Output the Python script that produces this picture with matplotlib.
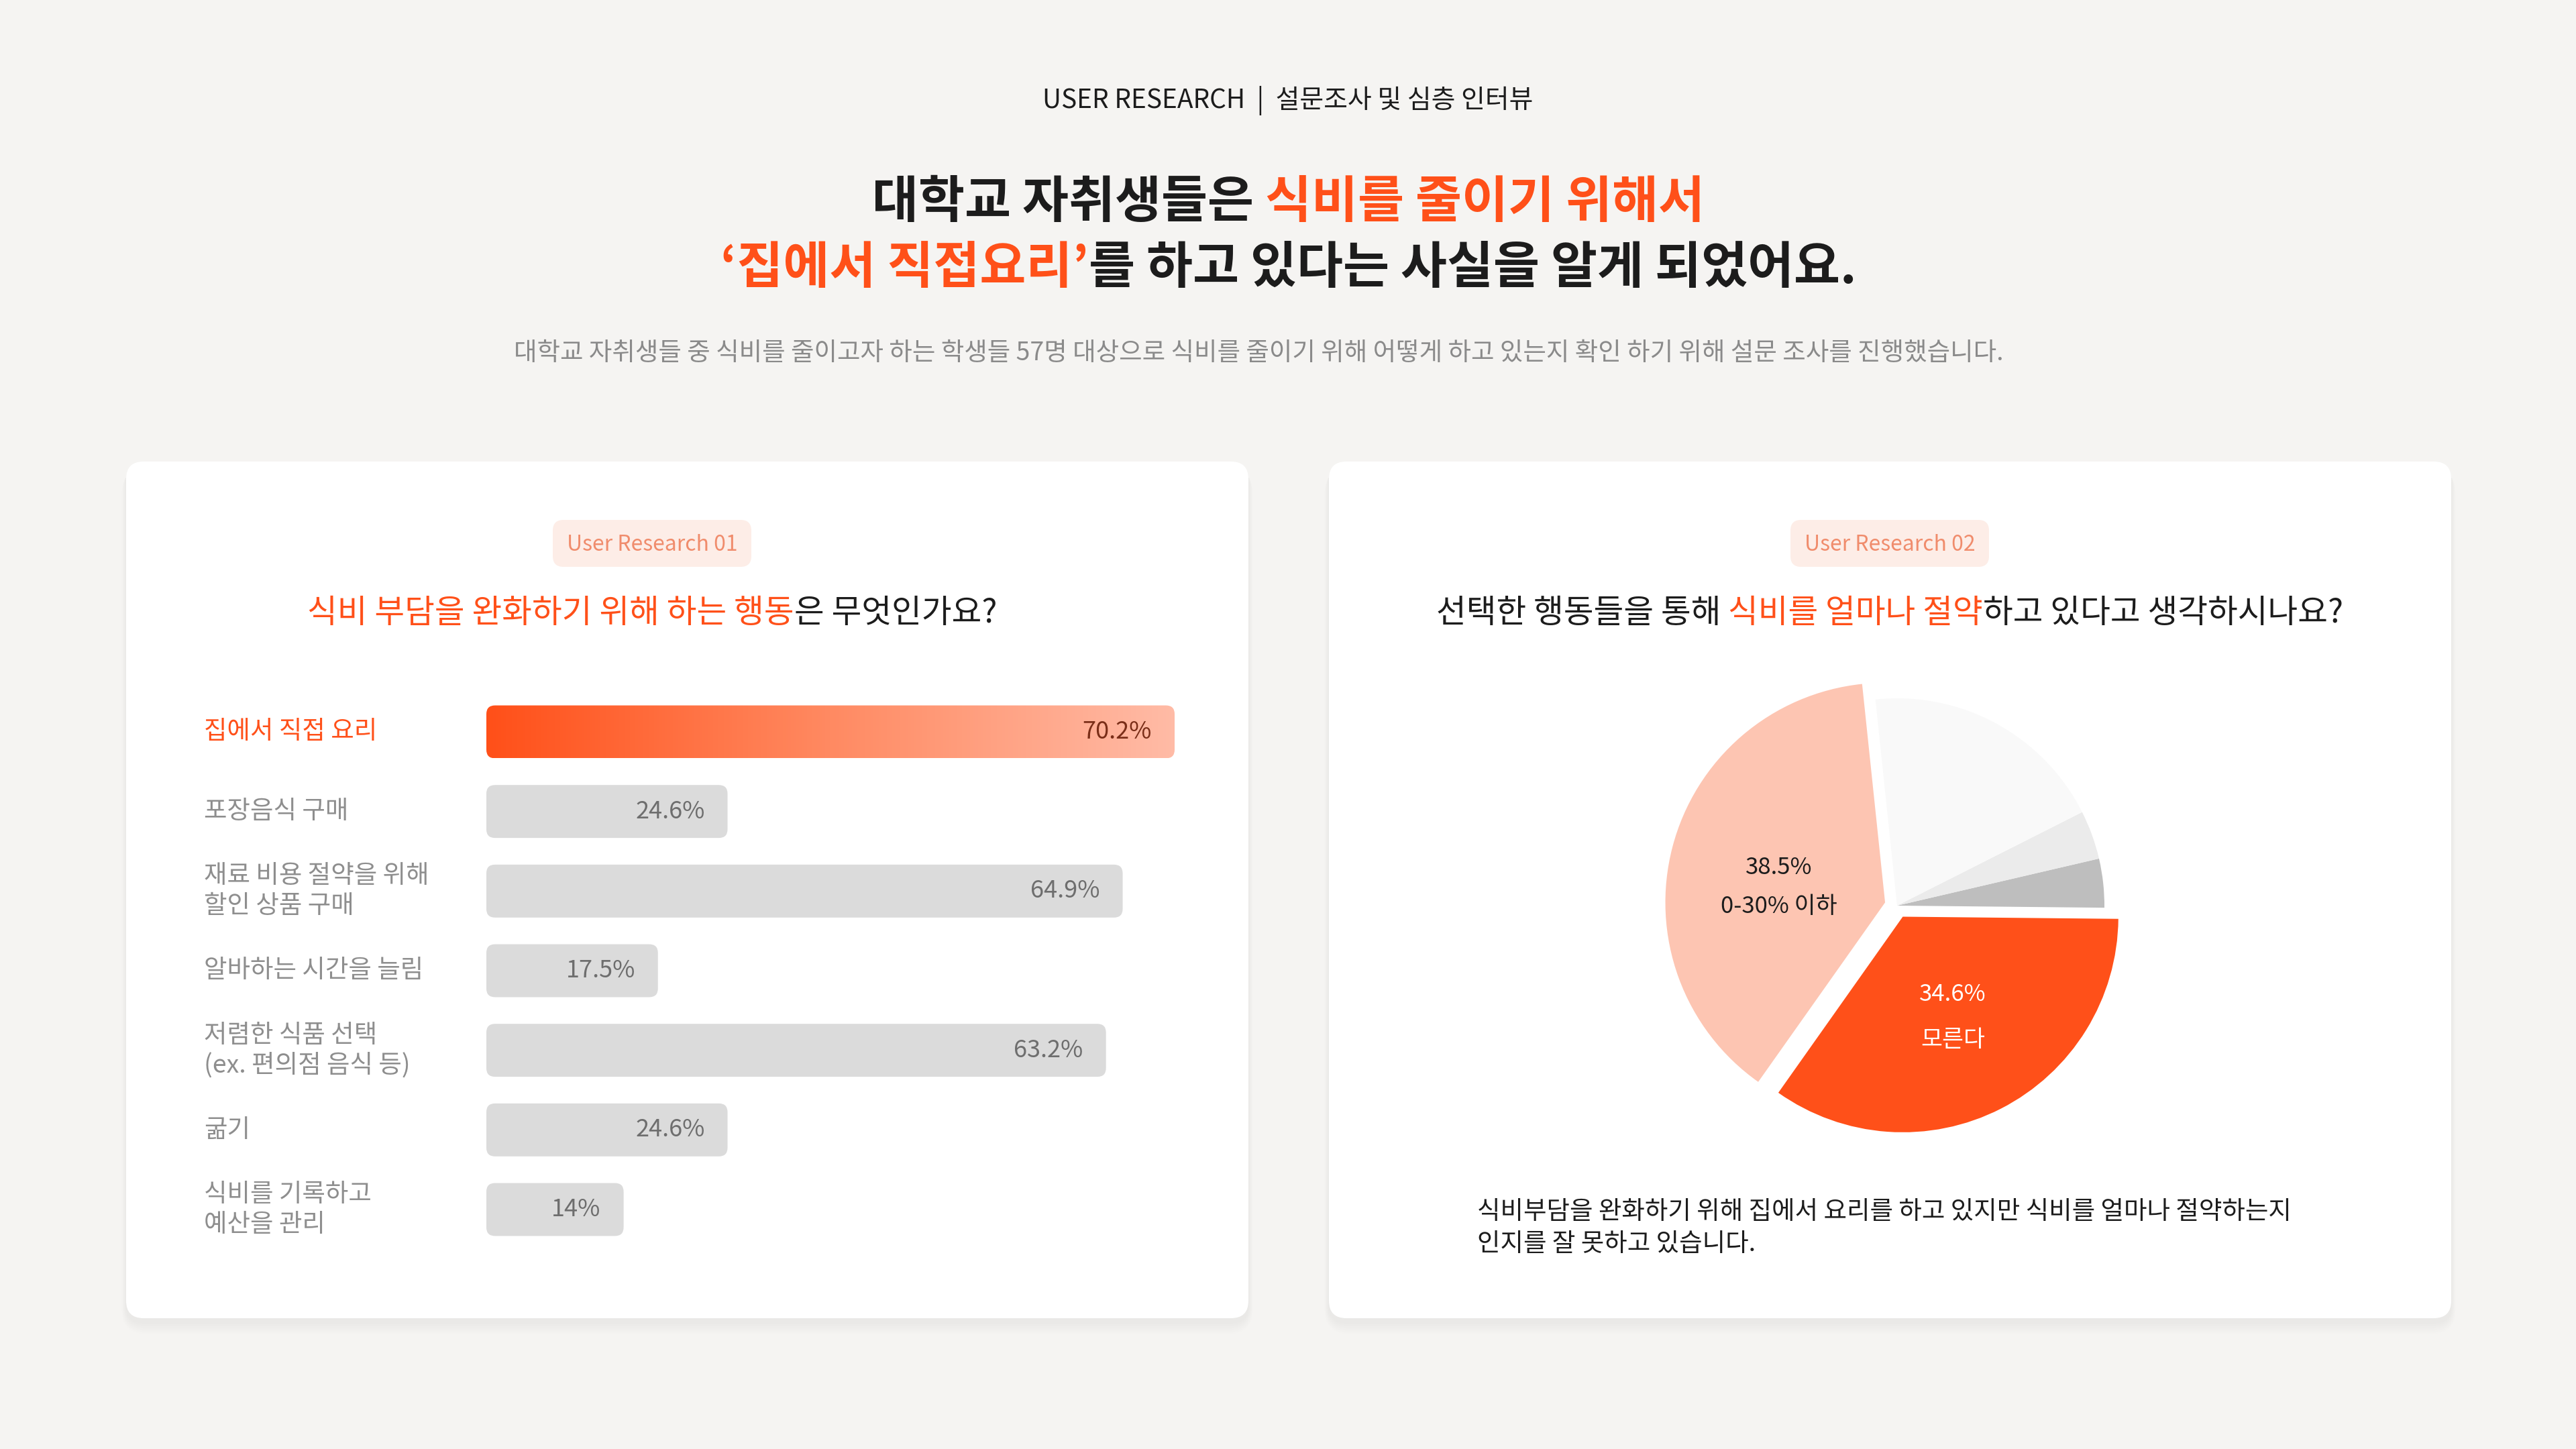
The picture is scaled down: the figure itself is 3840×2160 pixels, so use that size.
import matplotlib
matplotlib.use("Agg")
import matplotlib.pyplot as plt
from matplotlib.patches import FancyBboxPatch
from matplotlib.transforms import blended_transform_factory, offset_copy
from matplotlib.colors import LinearSegmentedColormap
import numpy as np

plt.rcParams['font.family'] = ['Noto Sans CJK KR', 'DejaVu Sans']

# ---------------- data ----------------
header_text = "USER RESEARCH  |  설문조사 및 심층 인터뷰"
title_line1 = [("대학교 자취생들은 ", "dark"), ("식비를 줄이기 위해서", "orange")]
title_line2 = [("‘집에서 직접요리’", "orange"), ("를 하고 있다는 사실을 알게 되었어요.", "dark")]
subtitle_text = ("대학교 자취생들 중 식비를 줄이고자 하는 학생들 57명 대상으로 식비를 줄이기 위해 "
                 "어떻게 하고 있는지 확인 하기 위해 설문 조사를 진행했습니다.")

pill_left = "User Research 01"
question_left = [("식비 부담을 완화하기 위해 하는 행동", "orange"), ("은 무엇인가요?", "dark")]
bar_labels = ["집에서 직접 요리", "포장음식 구매", "재료 비용 절약을 위해\n할인 상품 구매",
              "알바하는 시간을 늘림", "저렴한 식품 선택\n(ex. 편의점 음식 등)", "굶기",
              "식비를 기록하고\n예산을 관리"]
bar_values = [70.2, 24.6, 64.9, 17.5, 63.2, 24.6, 14.0]
bar_value_labels = ["70.2%", "24.6%", "64.9%", "17.5%", "63.2%", "24.6%", "14%"]

pill_right = "User Research 02"
question_right = [("선택한 행동들을 통해 ", "dark"), ("식비를 얼마나 절약", "orange"),
                  ("하고 있다고 생각하시나요?", "dark")]
pie_values = [38.5, 34.6, 3.8, 3.8, 19.2]
pie_pct_labels = ["38.5%", "34.6%", "", "", ""]
pie_name_labels = ["0-30% 이하", "모른다", "", "", ""]
note_lines = ["식비부담을 완화하기 위해 집에서 요리를 하고 있지만 식비를 얼마나 절약하는지",
              "인지를 잘 못하고 있습니다."]

# ---------------- style ----------------
BG = '#F5F4F2'
ORANGE = '#FF5019'
DARK = '#1C1C1C'
COLORS = {"dark": DARK, "orange": ORANGE}
LABEL_GRAY = '#8E8E8E'
SUB_GRAY = '#8A8A8A'
BAR_GRAY = '#DBDBDB'
PILL_BG = '#FDEDE7'
PILL_TEXT = '#F08C6C'
PIE_COLORS = ['#FDC5B2', ORANGE, '#BEBEBE', '#EBEBEB', '#F9F9F9']

W, H = 3840, 2160
fig = plt.figure(figsize=(W / 100, H / 100), dpi=100, facecolor=BG)
bg = fig.add_axes([0, 0, 1, 1])
bg.set_xlim(0, W)
bg.set_ylim(H, 0)
bg.axis('off')
bg.set_facecolor(BG)
renderer = fig.canvas.get_renderer()


def rich_line(xc, y, segments, size, weight='normal'):
    texts = []
    for s, c in segments:
        t = bg.text(0, y, s, color=COLORS[c], fontsize=size, fontweight=weight,
                    ha='left', va='center')
        texts.append(t)
    widths = [t.get_window_extent(renderer).width for t in texts]
    x = xc - sum(widths) / 2
    for t, w in zip(texts, widths):
        t.set_x(x)
        x += w


def card(x0, y0, w, h, r=26):
    for k in range(1, 12):
        sh = FancyBboxPatch((x0 - k * 0.6, y0 + 6 - k * 0.6 + k), w + k * 1.2, h + k * 1.2,
                            boxstyle=f"round,pad=0,rounding_size={r + k}",
                            fc='black', ec='none', alpha=0.0045, zorder=1)
        bg.add_patch(sh)
    bg.add_patch(FancyBboxPatch((x0, y0), w, h, boxstyle=f"round,pad=0,rounding_size={r}",
                                fc='white', ec='none', zorder=2))


def pill(xc, yc, text):
    w, h = 296, 70
    bg.add_patch(FancyBboxPatch((xc - w / 2, yc - h / 2), w, h,
                                boxstyle="round,pad=0,rounding_size=16",
                                fc=PILL_BG, ec='none', zorder=3))
    bg.text(xc, yc + 2, text, fontsize=23, color=PILL_TEXT, ha='center', va='center', zorder=4)


# ---------------- header ----------------
bg.text(W / 2, 150, header_text, fontsize=28, color=DARK, ha='center', va='center')
rich_line(1921, 302, title_line1, 54, 'bold')
rich_line(1921, 400, title_line2, 54, 'bold')
bg.text(1876, 527, subtitle_text, fontsize=27, color=SUB_GRAY, ha='center', va='center')

# ---------------- cards ----------------
card(188, 688, 1673, 1277)
card(1981, 688, 1673, 1277)
pill(972, 810, pill_left)
pill(2817, 810, pill_right)
rich_line(972, 914, question_left, 35)
rich_line(2817, 914, question_right, 35)

# ---------------- bar chart ----------------
n = len(bar_values)
row_px = (1803 - 1091) / (n - 1)
top = 1091 - row_px / 2
bottom = 1803 + row_px / 2
ax = fig.add_axes([725 / W, 1 - bottom / H, (1751 - 725) / W, (bottom - top) / H])
ax.set_xlim(0, max(bar_values))
ax.set_ylim(n - 0.5, -0.5)
ax.axis('off')
ax.patch.set_alpha(0)

ypos = np.arange(n)
bh = 0.665
bars = ax.barh(ypos, bar_values, height=bh, color='none')
p0 = ax.transData.transform((0, 0))
p1 = ax.transData.transform((1, 1))
sx = p1[0] - p0[0]
sy = abs(p1[1] - p0[1])
rad_px = 13
grad_cmap = LinearSegmentedColormap.from_list('g', [ORANGE, '#FF8A62', '#FFBBA6'])
for i, b in enumerate(bars):
    x, y = b.get_x(), b.get_y()
    w, h = b.get_width(), b.get_height()
    b.remove()
    patch = FancyBboxPatch((x, y), w, h,
                           boxstyle=f"round,pad=0,rounding_size={rad_px / sx}",
                           mutation_aspect=sx / sy,
                           fc=BAR_GRAY if i else 'none', ec='none', zorder=2)
    ax.add_patch(patch)
    if i == 0:
        grad = np.linspace(0, 1, 256).reshape(1, -1)
        im = ax.imshow(grad, extent=(x, x + w, y + h, y), cmap=grad_cmap,
                       aspect='auto', zorder=2, interpolation='bilinear')
        im.set_clip_path(patch)
ax.set_xlim(0, max(bar_values))
ax.set_ylim(n - 0.5, -0.5)

val_tr = offset_copy(ax.transData, fig=fig, x=-34, y=0, units='dots')
for i, (v, lab) in enumerate(zip(bar_values, bar_value_labels)):
    ax.text(v, i, lab, transform=val_tr, ha='right', va='center', fontsize=26,
            color='#7A2E18' if i == 0 else '#6E6E6E', zorder=5)

lab_tr = blended_transform_factory(bg.transData, ax.transData)
for i, lab in enumerate(bar_labels):
    ax.text(304, i, lab, transform=lab_tr, ha='left', va='center', fontsize=27,
            color=ORANGE if i == 0 else LABEL_GRAY, linespacing=1.2,
            fontweight='medium' if i == 0 else 'normal', clip_on=False)

# ---------------- pie chart ----------------
R = 309
cx, cy = 2828, 1350
half = 420
pax = fig.add_axes([(cx - half) / W, 1 - (cy + half) / H, 2 * half / W, 2 * half / H])
wedges, _ = pax.pie(pie_values, colors=PIE_COLORS, startangle=96, counterclock=True,
                    explode=[0.06, 0.06, 0, 0, 0], radius=1,
                    wedgeprops=dict(linewidth=0))
wedges[0].set_radius(1.06)
wedges[1].set_radius(1.04)
pax.set_xlim(-half / R, half / R)
pax.set_ylim(-half / R, half / R)
pax.set_aspect('equal')
pax.axis('off')

text_cols = [DARK, 'white']
line_gap = [29 / R, 34 / R]
y_shift = [-19 / R, -4 / R]
for i in range(2):
    wdg = wedges[i]
    th = np.deg2rad((wdg.theta1 + wdg.theta2) / 2)
    ccx, ccy = wdg.center
    lx = ccx + 0.53 * np.cos(th)
    ly = ccy + 0.53 * np.sin(th) + y_shift[i]
    pax.text(lx, ly + line_gap[i], pie_pct_labels[i], ha='center', va='center',
             fontsize=25, color=text_cols[i])
    pax.text(lx, ly - line_gap[i], pie_name_labels[i], ha='center', va='center',
             fontsize=25, color=text_cols[i])

# ---------------- note ----------------
bg.text(2202, 1806, note_lines[0], fontsize=27, color=DARK, ha='left', va='center', zorder=5)
bg.text(2202, 1855, note_lines[1], fontsize=27, color=DARK, ha='left', va='center', zorder=5)

fig.savefig('out.png', dpi=100, facecolor=BG)
